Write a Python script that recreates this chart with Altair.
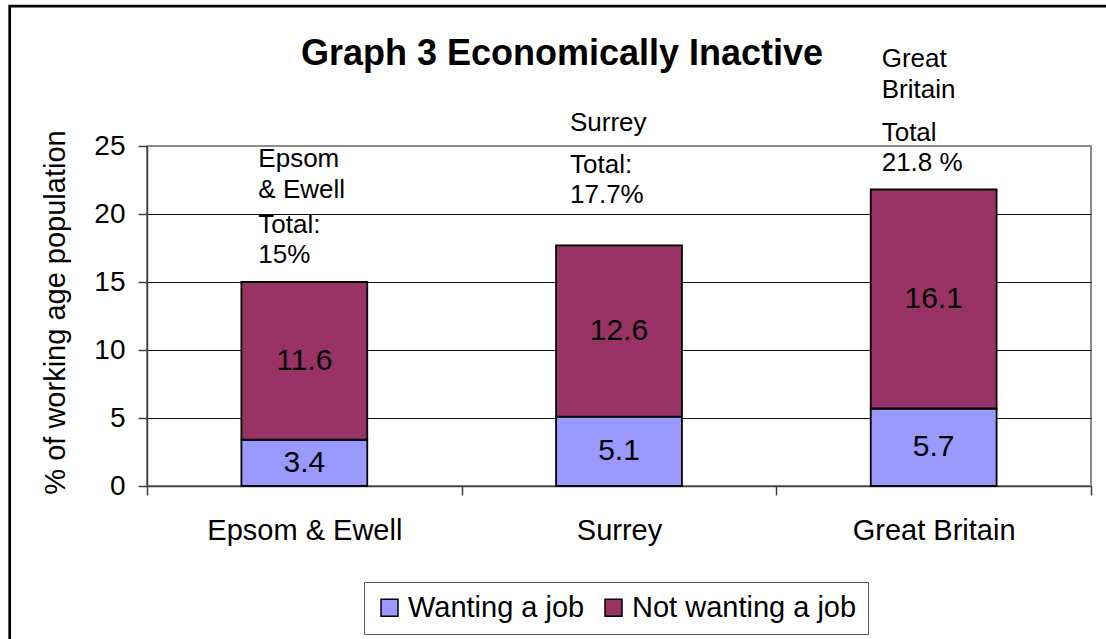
import altair as alt
import pandas as pd

# ---- data -------------------------------------------------------------
areas = ["Epsom & Ewell", "Surrey", "Great Britain"]
wanting = [3.4, 5.1, 5.7]
not_wanting = [11.6, 12.6, 16.1]
series = ["Wanting a job", "Not wanting a job"]
colors = ["#9999FF", "#993366"]

name_lines = [["Epsom", "& Ewell"], ["Surrey"], ["Great", "Britain"]]
total_captions = ["Total:", "Total:", "Total"]
total_suffixes = ["%", "%", " %"]

title_text = "Graph 3 Economically Inactive"
y_title = "% of working age population"
y_ticks = [0, 5, 10, 15, 20, 25]

# ---- layout -----------------------------------------------------------
FONT = "Liberation Sans"
W, H = 944, 340
PAD = {"left": 147, "top": 146, "right": 1106 - 147 - W, "bottom": 639 - 146 - H}

# per-area placement of the name / total captions (dx, dy name, dy total);
# dy is the offset of the first caption line from the top of the bar
caption_offsets = {
    "Epsom & Ewell": (-46, -123, -57),
    "Surrey": (-49, -122, -80),
    "Great Britain": (-52, -131, -57),
}

rows = []
for a, w, n in zip(areas, wanting, not_wanting):
    rows.append({"area": a, "series": series[0], "k": 0, "value": w})
    rows.append({"area": a, "series": series[1], "k": 1, "value": n})
seg = pd.DataFrame(rows)

notes = pd.DataFrame({
    "area": areas,
    "name": name_lines,
    "caption": total_captions,
    "suffix": total_suffixes,
    "total": [w + n for w, n in zip(wanting, not_wanting)],
})

x_scale = alt.Scale(domain=areas, paddingInner=0, paddingOuter=0)
y_scale = alt.Scale(domain=[0, 25], nice=False)

x_axis = alt.Axis(
    title=None, labelAngle=0, tickBand="extent", tickSize=9, labelPadding=21,
    labelFont=FONT, labelFontSize=29, labelColor="black", labelLimit=400,
    domainColor="#404040", domainWidth=1.5, tickColor="#404040", tickWidth=1.5,
    grid=False,
)
y_axis = alt.Axis(
    title=y_title, values=y_ticks, tickSize=9, labelPadding=13,
    labelFont=FONT, labelFontSize=28, labelColor="black",
    domainColor="#404040", domainWidth=1.5, tickColor="#404040", tickWidth=1.5,
    grid=True, gridWidth=1,
    gridColor={"condition": {"test": "datum.value === 25", "value": "#8c8c8c"},
               "value": "#111111"},
    titleFont=FONT, titleFontSize=29, titleFontWeight="normal", titleColor="black",
    titleAngle=270, titleBaseline="middle", titleAlign="center",
    titleX=-92, titleY=166,
)


def x_enc():
    return alt.X("area:N", sort=areas, scale=x_scale, axis=x_axis)


def y_enc(field):
    return alt.Y(field, scale=y_scale, axis=y_axis)


stacked = (
    alt.Chart(seg)
    .transform_stack(stack="value", groupby=["area"], as_=["y0", "y1"],
                     sort=[alt.SortField("k", order="ascending")])
    .transform_calculate(mid="(datum.y0 + datum.y1) / 2")
)

bars = stacked.mark_bar(
    width=alt.RelativeBandSize(0.4), stroke="black", strokeWidth=1.8
).encode(
    x=x_enc(),
    y=y_enc("y0:Q"),
    y2="y1:Q",
    color=alt.Color(
        "series:N",
        scale=alt.Scale(domain=series, range=colors),
        legend=alt.Legend(
            orient="none", legendX=217, legendY=436, direction="horizontal",
            title=None, symbolType="square", symbolSize=289,
            symbolStrokeColor="black", symbolStrokeWidth=1.5,
            labelFont=FONT, labelFontSize=29, labelColor="black", labelLimit=400,
            labelOffset=4, columnPadding=14, padding=11,
            strokeColor="#5a5a5a", fillColor="white",
        ),
    ),
    order=alt.Order("k:Q"),
)

value_labels = stacked.mark_text(
    font=FONT, fontSize=30, color="black", baseline="middle", align="center"
).encode(
    x=x_enc(),
    y=y_enc("mid:Q"),
    text=alt.Text("value:Q", format=".1f"),
)

note_base = alt.Chart(notes).transform_calculate(
    totline="[datum.caption, format(datum.total, '.1~f') + datum.suffix]"
)
note_layers = []
for area, (dx, dy_name, dy_total) in caption_offsets.items():
    sub = note_base.transform_filter(alt.datum.area == area)
    common = dict(align="left", baseline="middle", font=FONT, fontSize=26,
                  color="black", dx=dx)
    note_layers.append(
        sub.mark_text(dy=dy_name, lineHeight=31, **common).encode(
            x=x_enc(), y=y_enc("total:Q"), text=alt.Text("name"),
        )
    )
    note_layers.append(
        sub.mark_text(dy=dy_total, lineHeight=30, **common).encode(
            x=x_enc(), y=y_enc("total:Q"), text=alt.Text("totline:N"),
        )
    )

# chart heading
heading = alt.Chart(pd.DataFrame({"t": [title_text]})).mark_text(
    font=FONT, fontSize=36, fontWeight="bold", align="center",
    baseline="alphabetic", color="black",
).encode(x=alt.value(415), y=alt.value(-81), text="t:N")

# outer border of the chart box
border = alt.Chart(pd.DataFrame({"f": [0]})).mark_rect(
    fillOpacity=0, stroke="black", strokeWidth=2.7
).encode(
    x=alt.value(-137.3), x2=alt.value(1000),
    y=alt.value(-139.8), y2=alt.value(560),
)

chart = alt.layer(bars, value_labels, *note_layers, heading, border).properties(
    width=W, height=H,
    autosize=alt.AutoSizeParams(type="none"),
    padding=PAD,
    background="white",
).configure_view(stroke="#8c8c8c", strokeWidth=2)

chart.save("out.html", embed_options={"renderer": "svg", "actions": False})
